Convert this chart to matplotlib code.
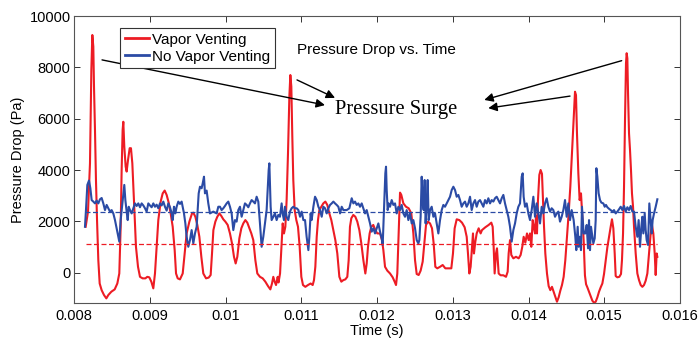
import matplotlib
matplotlib.use("Agg")
import matplotlib.pyplot as plt
import numpy as np

plt.rcParams['font.family'] = ['Liberation Sans', 'DejaVu Sans']

# ---------------- data ----------------
vent_time = [
    0.008154, 0.008185, 0.008211, 0.008229, 0.008242, 0.008255, 0.008264, 0.008277, 0.008290, 0.008304,
    0.008321, 0.008339, 0.008365, 0.008396, 0.008427, 0.008453, 0.008493, 0.008537, 0.008572, 0.008598,
    0.008616, 0.008629, 0.008642, 0.008651, 0.008664, 0.008682, 0.008695, 0.008713, 0.008735, 0.008752,
    0.008770, 0.008783, 0.008801, 0.008818, 0.008845, 0.008871, 0.008906, 0.008942, 0.008968, 0.008994,
    0.009021, 0.009047, 0.009069, 0.009091, 0.009113, 0.009144, 0.009171, 0.009197, 0.009223, 0.009250,
    0.009276, 0.009303, 0.009329, 0.009347, 0.009369, 0.009399, 0.009435, 0.009461, 0.009487, 0.009523,
    0.009558, 0.009575, 0.009602, 0.009628, 0.009655, 0.009681, 0.009707, 0.009743, 0.009778, 0.009804,
    0.009822, 0.009840, 0.009866, 0.009892, 0.009919, 0.009945, 0.009971, 0.009998, 0.010029, 0.010059,
    0.010086, 0.010112, 0.010134, 0.010156, 0.010183, 0.010209, 0.010235, 0.010262, 0.010288, 0.010315,
    0.010341, 0.010367, 0.010394, 0.010420, 0.010455, 0.010491, 0.010526, 0.010561, 0.010592, 0.010614,
    0.010631, 0.010649, 0.010667, 0.010689, 0.010700, 0.010720, 0.010737, 0.010755, 0.010772, 0.010790,
    0.010807, 0.010825, 0.010843, 0.010856, 0.010869, 0.010882, 0.010895, 0.010913, 0.010935, 0.010957,
    0.010979, 0.011001, 0.011023, 0.011054, 0.011089, 0.011124, 0.011151, 0.011168, 0.011186, 0.011204,
    0.011221, 0.011239, 0.011265, 0.011291, 0.011318, 0.011344, 0.011371, 0.011397, 0.011423, 0.011450,
    0.011476, 0.011503, 0.011529, 0.011555, 0.011582, 0.011608, 0.011626, 0.011643, 0.011661, 0.011687,
    0.011714, 0.011740, 0.011767, 0.011793, 0.011820, 0.011846, 0.011864, 0.011881, 0.011903, 0.011925,
    0.011951, 0.011978, 0.012004, 0.012040, 0.012066, 0.012084, 0.012106, 0.012136, 0.012172, 0.012207,
    0.012233, 0.012251, 0.012268, 0.012286, 0.012304, 0.012321, 0.012348, 0.012383, 0.012418, 0.012453,
    0.012480, 0.012502, 0.012524, 0.012550, 0.012576, 0.012603, 0.012625, 0.012647, 0.012673, 0.012700,
    0.012726, 0.012748, 0.012770, 0.012796, 0.012832, 0.012867, 0.012902, 0.012946, 0.012981, 0.013003,
    0.013025, 0.013052, 0.013087, 0.013122, 0.013157, 0.013184, 0.013201, 0.013219, 0.013236, 0.013254,
    0.013267, 0.013280, 0.013298, 0.013316, 0.013342, 0.013368, 0.013386, 0.013430, 0.013474, 0.013509,
    0.013527, 0.013540, 0.013553, 0.013571, 0.013584, 0.013606, 0.013632, 0.013668, 0.013703, 0.013725,
    0.013738, 0.013756, 0.013773, 0.013800, 0.013835, 0.013870, 0.013896, 0.013918, 0.013936, 0.013958,
    0.013980, 0.014002, 0.014020, 0.014037, 0.014055, 0.014073, 0.014086, 0.014099, 0.014112, 0.014125,
    0.014143, 0.014160, 0.014178, 0.014191, 0.014205, 0.014222, 0.014244, 0.014266, 0.014288, 0.014310,
    0.014332, 0.014354, 0.014376, 0.014398, 0.014420, 0.014442, 0.014464, 0.014486, 0.014508, 0.014530,
    0.014552, 0.014574, 0.014596, 0.014614, 0.014627, 0.014640, 0.014658, 0.014675, 0.014693, 0.014711,
    0.014728, 0.014745, 0.014760, 0.014777, 0.014799, 0.014821, 0.014843, 0.014865, 0.014887, 0.014909,
    0.014931, 0.014953, 0.014975, 0.014997, 0.015019, 0.015041, 0.015063, 0.015085, 0.015102, 0.015120,
    0.015138, 0.015151, 0.015173, 0.015199, 0.015221, 0.015234, 0.015248, 0.015261, 0.015274, 0.015287,
    0.015296, 0.015305, 0.015314, 0.015327, 0.015340, 0.015353, 0.015366, 0.015380, 0.015393, 0.015415,
    0.015437, 0.015459, 0.015481, 0.015503, 0.015525, 0.015547, 0.015569, 0.015591, 0.015613, 0.015630,
    0.015648, 0.015666, 0.015679, 0.015692, 0.015701,
]
vent_dp = [
    1790, 2380, 4260, 7900, 9260, 8810, 7250, 5560, 3610, 2050,
    490, -420, -680, -870, -1000, -870, -740, -650, -420, -30,
    1790, 4000, 5560, 5880, 4910, 4130, 3940, 4390, 4850, 4850,
    4260, 3350, 2180, 1010, 230, -160, -220, -220, -160, -180,
    -350, -610, -30, 1010, 2050, 2770, 3090, 3200, 3030, 2730,
    2310, 1790, 880, -30, -220, -260, -30, 750, 1530, 1990,
    2310, 2340, 2180, 1860, 1400, 620, -30, -220, -190, -90,
    750, 1660, 1990, 2180, 2310, 2210, 2080, 1990, 1860, 1530,
    1140, 620, 360, 620, 1340, 1730, 1920, 2050, 1950, 1730,
    1530, 1270, 490, -30, -160, -220, -350, -520, -650, -420,
    -160, -350, -480, -160, -380, -30, 880, 1920, 1530, 1790,
    2830, 4650, 6860, 7700, 7250, 5300, 3610, 2440, 2050, 1790,
    1010, -160, -480, -550, -480, -420, -480, -290, 230, 1400,
    2050, 2440, 2570, 2700, 2770, 2640, 2310, 2050, 1660, 1270,
    750, -160, -350, -290, -260, -160, 490, 1790, 2120, 2250,
    2180, 1990, 1660, 1140, 490, -30, 360, 1010, 1530, 1790,
    1860, 1660, 1530, 1530, 1270, 880, 230, 80, -30, -180,
    -350, -480, -30, 1530, 3120, 3030, 2700, 2570, 2510, 2310,
    1530, 490, -50, -90, 80, 430, 1140, 1860, 1990, 1920,
    1730, 1140, 230, 170, 230, 300, 170, 170, 170, 750,
    1730, 2080, 2050, 1950, 1770, 1400, 750, -30, 230, 1010,
    1530, 750, 1210, 1530, 1730, 1530, 1660, 1770, 1860, 1950,
    1790, 1010, -30, 750, 950, -30, -100, -100, -160, 40,
    750, 1270, 690, 560, 620, 560, 690, 1010, 1400, 1170,
    1530, 1270, 1530, 1010, 2050, 1730, 1530, 2210, 1530, 2830,
    3810, 4000, 3850, 2830, 1790, 750, -30, -520, -680, -550,
    -740, -940, -1130, -960, -700, -480, -160, 490, 1400, 2310,
    3350, 4650, 5950, 7050, 6920, 5430, 3870, 2830, 3090, 2180,
    1270, -100, -450, -570, -740, -910, -1090, -1170, -1130, -960,
    -740, -570, -420, -50, 470, 990, 1400, 1790, 2080, 1730,
    750, -130, -180, -160, -50, 490, 1530, 3350, 5950, 8160,
    8550, 8350, 6990, 5430, 4780, 4000, 3090, 2570, 1790, 750,
    -30, -290, -480, -550, -480, -310, -30, 750, 1530, 1860,
    1530, 750, -90, 750, 620,
]

novent_time = [
    0.008145, 0.008158, 0.008176, 0.008198, 0.008216, 0.008233, 0.008255, 0.008277, 0.008299, 0.008321,
    0.008343, 0.008365, 0.008387, 0.008409, 0.008431, 0.008453, 0.008475, 0.008497, 0.008519, 0.008541,
    0.008563, 0.008585, 0.008598, 0.008616, 0.008634, 0.008651, 0.008664, 0.008678, 0.008695, 0.008709,
    0.008722, 0.008739, 0.008761, 0.008783, 0.008805, 0.008827, 0.008849, 0.008871, 0.008893, 0.008915,
    0.008937, 0.008959, 0.008981, 0.009003, 0.009025, 0.009047, 0.009069, 0.009091, 0.009113, 0.009135,
    0.009157, 0.009179, 0.009201, 0.009223, 0.009245, 0.009267, 0.009290, 0.009303, 0.009320, 0.009338,
    0.009355, 0.009377, 0.009399, 0.009421, 0.009435, 0.009452, 0.009470, 0.009487, 0.009509, 0.009531,
    0.009553, 0.009575, 0.009597, 0.009619, 0.009633, 0.009646, 0.009663, 0.009685, 0.009699, 0.009716,
    0.009729, 0.009751, 0.009773, 0.009795, 0.009839, 0.009883, 0.009905, 0.009927, 0.009949, 0.009971,
    0.009993, 0.010015, 0.010037, 0.010059, 0.010081, 0.010103, 0.010125, 0.010147, 0.010169, 0.010191,
    0.010213, 0.010235, 0.010257, 0.010279, 0.010301, 0.010323, 0.010345, 0.010367, 0.010389, 0.010411,
    0.010433, 0.010455, 0.010477, 0.010499, 0.010521, 0.010543, 0.010557, 0.010570, 0.010579, 0.010587,
    0.010596, 0.010609, 0.010631, 0.010653, 0.010675, 0.010697, 0.010719, 0.010741, 0.010754, 0.010772,
    0.010785, 0.010807, 0.010829, 0.010851, 0.010873, 0.010896, 0.010918, 0.010940, 0.010962, 0.010984,
    0.011006, 0.011028, 0.011050, 0.011071, 0.011094, 0.011107, 0.011124, 0.011137, 0.011160, 0.011182,
    0.011204, 0.011226, 0.011248, 0.011270, 0.011292, 0.011314, 0.011336, 0.011358, 0.011380, 0.011402,
    0.011424, 0.011446, 0.011468, 0.011490, 0.011512, 0.011534, 0.011556, 0.011600, 0.011635, 0.011666,
    0.011688, 0.011710, 0.011732, 0.011754, 0.011776, 0.011798, 0.011820, 0.011842, 0.011864, 0.011886,
    0.011908, 0.011930, 0.011952, 0.011974, 0.011996, 0.012018, 0.012040, 0.012062, 0.012075, 0.012084,
    0.012097, 0.012110, 0.012119, 0.012128, 0.012141, 0.012154, 0.012172, 0.012194, 0.012216, 0.012238,
    0.012260, 0.012282, 0.012304, 0.012326, 0.012348, 0.012370, 0.012392, 0.012414, 0.012436, 0.012458,
    0.012480, 0.012502, 0.012524, 0.012546, 0.012559, 0.012576, 0.012590, 0.012603, 0.012616, 0.012629,
    0.012642, 0.012656, 0.012669, 0.012682, 0.012700, 0.012722, 0.012744, 0.012766, 0.012788, 0.012810,
    0.012832, 0.012854, 0.012876, 0.012898, 0.012920, 0.012942, 0.012964, 0.012986, 0.013008, 0.013030,
    0.013052, 0.013074, 0.013096, 0.013118, 0.013140, 0.013162, 0.013184, 0.013206, 0.013228, 0.013250,
    0.013272, 0.013294, 0.013316, 0.013338, 0.013360, 0.013382, 0.013404, 0.013426, 0.013448, 0.013470,
    0.013492, 0.013514, 0.013536, 0.013558, 0.013580, 0.013602, 0.013624, 0.013646, 0.013668, 0.013690,
    0.013712, 0.013734, 0.013756, 0.013778, 0.013800, 0.013822, 0.013844, 0.013866, 0.013888, 0.013910,
    0.013923, 0.013936, 0.013954, 0.013976, 0.013998, 0.014020, 0.014042, 0.014064, 0.014086, 0.014108,
    0.014130, 0.014152, 0.014174, 0.014196, 0.014218, 0.014240, 0.014262, 0.014284, 0.014306, 0.014328,
    0.014350, 0.014372, 0.014394, 0.014416, 0.014438, 0.014460, 0.014482, 0.014504, 0.014526, 0.014548,
    0.014570, 0.014596, 0.014618, 0.014631, 0.014649, 0.014662, 0.014675, 0.014693, 0.014706, 0.014728,
    0.014750, 0.014768, 0.014786, 0.014799, 0.014812, 0.014825, 0.014843, 0.014856, 0.014874, 0.014887,
    0.014896, 0.014909, 0.014926, 0.014944, 0.014962, 0.014988, 0.015006, 0.015023, 0.015041, 0.015063,
    0.015085, 0.015107, 0.015129, 0.015151, 0.015173, 0.015195, 0.015217, 0.015239, 0.015261, 0.015283,
    0.015305, 0.015327, 0.015349, 0.015371, 0.015393, 0.015415, 0.015437, 0.015454, 0.015472, 0.015490,
    0.015503, 0.015516, 0.015534, 0.015547, 0.015560, 0.015578, 0.015595, 0.015613, 0.015626, 0.015639,
    0.015657, 0.015679, 0.015701,
]
novent_dp = [
    1790, 2440, 3420, 3590, 3290, 2830, 2770, 2700, 2810, 2700,
    2860, 2910, 2700, 2440, 2640, 2510, 2380, 2440, 2310, 2050,
    1730, 1400, 1210, 2050, 2570, 3030, 3420, 2830, 2380, 2050,
    2570, 2440, 2310, 2510, 2700, 2600, 2700, 2550, 2700, 2620,
    2510, 2380, 2700, 2620, 2550, 2700, 2570, 2650, 2510, 2700,
    2620, 2770, 2570, 2420, 2700, 2550, 2310, 2050, 2570, 2310,
    2570, 2770, 2680, 2770, 2570, 2310, 1920, 1400, 1010, 1270,
    1660, 1140, 1530, 1790, 2440, 3090, 3350, 3290, 3480, 3740,
    3090, 3200, 2700, 2310, 2380, 2310, 2570, 2570, 2440, 2510,
    2600, 2700, 2770, 2570, 2310, 1660, 2050, 1990, 2440, 2570,
    2180, 2440, 2700, 2640, 2550, 2700, 2830, 2770, 2700, 2960,
    2770, 1920, 1010, 1400, 1920, 2440, 3220, 4000, 4260, 3480,
    2570, 2050, 2180, 2310, 2050, 2250, 2180, 2700, 2310, 2050,
    2570, 2180, 2050, 2380, 2510, 2570, 2510, 2510, 2440, 2180,
    2380, 2050, 2050, 1400, 880, 1400, 2310, 2050, 2570, 2960,
    2830, 2570, 2440, 2180, 2570, 2510, 2310, 2510, 2640, 2700,
    2770, 2700, 2640, 2570, 2310, 2570, 2440, 2440, 2510, 2900,
    2700, 2770, 2640, 2700, 2570, 2700, 2510, 2310, 2440, 2180,
    1920, 1600, 1730, 1530, 1730, 1920, 1600, 1340, 1080, 1790,
    2830, 3870, 4130, 3220, 2440, 2700, 2570, 2830, 2640, 2700,
    2310, 2570, 2440, 2640, 2310, 2180, 2440, 2050, 2310, 1920,
    2050, 1730, 1270, 1140, 1270, 2180, 3740, 2700, 2440, 3610,
    1920, 2700, 3610, 2050, 2440, 2570, 2180, 2310, 1920, 1530,
    2050, 2440, 2640, 2570, 2700, 2830, 2960, 3220, 3350, 3220,
    2960, 3030, 2830, 2570, 2700, 2770, 2570, 2700, 2960, 2440,
    2700, 2830, 2570, 2770, 2830, 2700, 2570, 2830, 2700, 2900,
    2700, 2830, 2770, 2900, 2960, 2830, 2700, 2900, 3030, 2700,
    2440, 2180, 1790, 1210, 1660, 1920, 2310, 2570, 2700, 3740,
    3870, 2960, 2570, 2700, 2310, 2050, 2440, 2960, 2180, 2700,
    2310, 1920, 2570, 2310, 2700, 2900, 2570, 2380, 2510, 2440,
    2180, 2310, 2380, 1990, 2180, 2440, 2830, 2180, 2700, 2050,
    2440, 2050, 1400, 880, 1790, 1010, 1400, 880, 2570, 1530,
    1530, 1860, 950, 2050, 880, 1790, 1400, 1140, 1340, 2050,
    4070, 3740, 3090, 2830, 2730, 2700, 2570, 2640, 2550, 2490,
    2440, 2380, 2440, 2310, 2380, 2470, 2570, 2440, 2600, 2380,
    2550, 2440, 2600, 2380, 2380, 1790, 1400, 2050, 1010, 1790,
    2180, 1530, 2310, 1660, 1270, 1080, 2700, 2050, 1530, 2050,
    2310, 2570, 2860,
]

vent_mean = 1120
novent_mean = 2380

series_labels = ["Vapor Venting", "No Vapor Venting"]
x_ticks = [0.008, 0.009, 0.010, 0.011, 0.012, 0.013, 0.014, 0.015, 0.016]
x_tick_labels = ["0.008", "0.009", "0.01", "0.011", "0.012", "0.013", "0.014", "0.015", "0.016"]
y_ticks = [0, 2000, 4000, 6000, 8000, 10000]

# ---------------- figure ----------------
RED = '#ED1C24'
BLUE = '#2B4BA5'

fig = plt.figure(figsize=(6.99, 3.39), dpi=100)
ax = fig.add_axes([74 / 699, 1 - 303 / 339, 606 / 699, 287 / 339])

l1, = ax.plot(vent_time, vent_dp, color=RED, lw=1.5, label=series_labels[0], zorder=2)
l2, = ax.plot(novent_time, novent_dp, color=BLUE, lw=1.5, label=series_labels[1], zorder=3)

ax.hlines(vent_mean, vent_time[0], vent_time[-1], colors=RED, linestyles=(0, (4, 2)), lw=0.9, zorder=4)
ax.hlines(novent_mean, novent_time[0], novent_time[-1], colors=BLUE, linestyles=(0, (4, 2)), lw=0.9, zorder=4)

ax.set_xlim(0.008, 0.016)
ax.set_ylim(-1180, 10000)
ax.set_xticks(x_ticks)
ax.set_xticklabels(x_tick_labels)
ax.set_yticks(y_ticks)
ax.set_yticklabels([str(v) for v in y_ticks])

ax.tick_params(direction='in', length=4.3, width=0.7, top=True, right=True,
               labelsize=10.5, colors='#333333', labelcolor='black')
ax.tick_params(axis='x', pad=4)
ax.tick_params(axis='y', pad=2.5)
for sp in ax.spines.values():
    sp.set_color('#555555')
    sp.set_linewidth(0.8)

ax.set_xlabel("Time (s)", fontsize=10.5, labelpad=1)
ax.set_ylabel("Pressure Drop (Pa)", fontsize=10.5, labelpad=3)

leg = ax.legend(handles=[l1, l2], loc='upper left', bbox_to_anchor=(0.0759, 0.958),
                borderaxespad=0, fontsize=11, handlelength=1.6, handletextpad=0.2,
                borderpad=0.3, labelspacing=0.2, fancybox=False, framealpha=1,
                edgecolor='#333333')
leg.get_frame().set_linewidth(0.8)
for h in leg.get_lines():
    h.set_linewidth(2)

ax.text(0.010944, 8680, "Pressure Drop vs. Time", fontsize=11, va='center', ha='left')
ax.text(0.011446, 6340, "Pressure Surge", fontsize=14.75, va='center', ha='left',
        family=['Liberation Serif', 'DejaVu Serif'])

arrow_kw = dict(arrowstyle='-|>', color='black', lw=1.0, mutation_scale=13,
                shrinkA=0, shrinkB=0)
arrows = [
    ((0.008370, 8290), (0.011313, 6530)),
    ((0.010944, 7510), (0.011446, 6810)),
    ((0.015230, 8260), (0.013416, 6730)),
    ((0.014548, 6880), (0.013469, 6410)),
]
for (x0, y0), (x1, y1) in arrows:
    ax.annotate("", xy=(x1, y1), xytext=(x0, y0), arrowprops=arrow_kw, zorder=5)

fig.savefig("out.png", dpi=100)
